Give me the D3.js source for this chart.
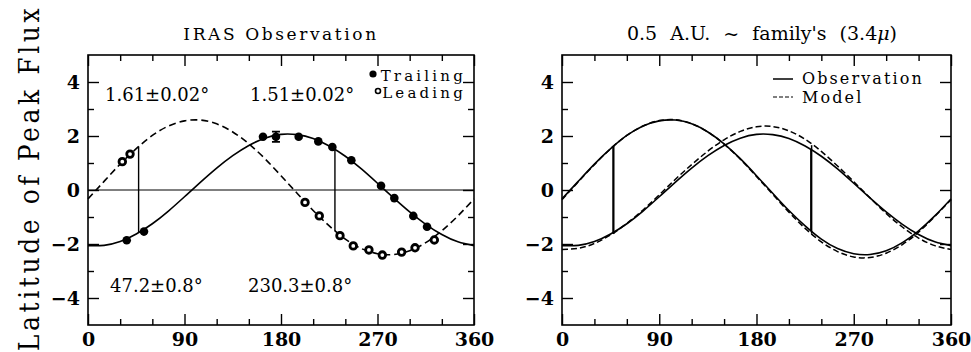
<!DOCTYPE html>
<html>
<head>
<meta charset="utf-8">
<script src="https://cdn.jsdelivr.net/npm/d3@7/dist/d3.min.js"></script>
<style>
  body { margin: 0; background: #fff; }
  .tick text { font-family: "DejaVu Serif", serif; font-weight: bold; font-size: 19px; fill: #000; }
  .tick line { stroke: #000; stroke-width: 1.4; }
</style>
</head>
<body>
<div id="chart"></div>
<script>
// longitude samples (deg) for the fitted curves
const lon = [0,15,30,45,60,75,90,105,120,135,150,165,180,195,210,225,240,255,270,285,300,315,330,345,360]
// IRAS fits
const trailingFit = [-2.06,-2.05,-1.91,-1.63,-1.25,-0.78,-0.25,0.29,0.81,1.27,1.65,1.92,2.06,2.05,1.91,1.63,1.25,0.78,0.25,-0.29,-0.81,-1.27,-1.65,-1.92,-2.06]
const leadingFit = [-0.33,0.32,0.96,1.53,2.02,2.37,2.56,2.59,2.45,2.15,1.71,1.16,0.53,-0.12,-0.76,-1.33,-1.82,-2.17,-2.36,-2.39,-2.25,-1.95,-1.51,-0.96,-0.33]
// model curves (right panel, dashed)
const modelLeading = [-0.36,0.30,0.94,1.53,2.02,2.37,2.57,2.60,2.46,2.15,1.70,1.14,0.50,-0.16,-0.82,-1.42,-1.92,-2.28,-2.48,-2.50,-2.34,-2.02,-1.56,-0.98,-0.36]
const modelTrailing = [-2.20,-2.16,-1.98,-1.66,-1.24,-0.74,-0.18,0.40,0.94,1.44,1.86,2.17,2.34,2.35,2.19,1.88,1.43,0.89,0.31,-0.29,-0.87,-1.37,-1.78,-2.06,-2.20]

// observed points
const trailingLon = [36.1,52.2,163.2,175.3,196.5,214.8,227.9,245.6,273.3,285.7,303.4,316.2]
const trailingLat = [-1.86,-1.54,1.97,1.97,1.97,1.80,1.59,1.10,0.16,-0.30,-0.96,-1.36]
const leadingLon = [32.0,39.2,202.4,215.7,235.0,247.4,262.0,274.5,292.5,305.0,323.0]
const leadingLat = [1.05,1.33,-0.46,-0.96,-1.69,-2.07,-2.22,-2.41,-2.30,-2.14,-1.85]
const errLon = [175.3]
const errLo = [1.78]
const errHi = [2.16]

// node lines
const obsNodeLon = [47.2, 230.3]
const obsNodeTop = [1.61, 1.51]
const obsNodeBottom = [-1.58, -1.52]
const modelNodeLon = [47.9, 231.0]
const modelNodeTop = [1.63, 1.66]
const modelNodeBottom = [-1.63, -1.62]

const xMajor = [0, 90, 180, 270, 360]
const xMinor = [30, 60, 120, 150, 210, 240, 300, 330]
const yMajor = [-4, -2, 0, 2, 4]
const yMinor = [-3, -1, 1, 3]

const width = 971
const height = 352
const plotTop = 55, plotBottom = 325
const serif = "'DejaVu Serif', serif"

const svg = d3.select("#chart").append("svg")
    .attr("width", width).attr("height", height)
    .attr("viewBox", [0, 0, width, height])

svg.append("rect").attr("width", width).attr("height", height).attr("fill", "#fff")

svg.append("text")
    .attr("transform", `translate(39,178) rotate(-90) scale(1,1.15)`)
    .attr("text-anchor", "middle")
    .style("font-family", serif)
    .style("font-size", "25px")
    .style("letter-spacing", "3.6px")
    .text("Latitude of Peak Flux")

const y = d3.scaleLinear().domain([-5, 5]).range([plotBottom, plotTop])
const fmt = d => d < 0 ? "\u2212" + Math.abs(d) : String(d)

function panel(x0, x1) {
    const x = d3.scaleLinear().domain([0, 360]).range([x0, x1])
    const g = svg.append("g")

    const sides = [
        [d3.axisBottom, x, `translate(0,${plotBottom})`, true, xMajor, xMinor],
        [d3.axisTop, x, `translate(0,${plotTop})`, false, xMajor, xMinor],
        [d3.axisLeft, y, `translate(${x0},0)`, true, yMajor, yMinor],
        [d3.axisRight, y, `translate(${x1},0)`, false, yMajor, yMinor]
    ]
    sides.forEach(([make, sc, tr, labels, major, minor]) => {
        g.append("g").attr("transform", tr)
            .call(make(sc).tickValues(major).tickSizeInner(-11).tickSizeOuter(0)
                .tickPadding(labels ? 8 : 0).tickFormat(labels ? fmt : ""))
            .call(s => s.select(".domain").remove())
        g.append("g").attr("transform", tr)
            .call(make(sc).tickValues(minor).tickSizeInner(-6).tickSizeOuter(0).tickFormat(""))
            .call(s => s.select(".domain").remove())
    })

    g.append("rect")
        .attr("x", x0).attr("y", plotTop)
        .attr("width", x1 - x0).attr("height", plotBottom - plotTop)
        .attr("fill", "none").attr("stroke", "#000").attr("stroke-width", 1.6)
    return { x, g }
}

function curve(g, x, ys, dash, w) {
    const line = d3.line().x((d, i) => x(lon[i])).y(d => y(d)).curve(d3.curveNatural)
    g.append("path").datum(ys)
        .attr("fill", "none").attr("stroke", "#000")
        .attr("stroke-width", w || 1.6)
        .attr("stroke-dasharray", dash || null)
        .attr("d", line)
}

function nodes(g, x, lons, tops, bots, w) {
    g.selectAll(null).data(lons).join("line")
        .attr("x1", d => x(d)).attr("x2", d => x(d))
        .attr("y1", (d, i) => y(tops[i])).attr("y2", (d, i) => y(bots[i]))
        .attr("stroke", "#000").attr("stroke-width", w)
}

// ---- left panel: IRAS observation
const L = panel(88, 474)
L.g.append("text")
    .attr("x", 281).attr("y", 40).attr("text-anchor", "middle")
    .style("font-family", serif).style("font-size", "17px").style("letter-spacing", "2.6px")
    .text("IRAS Observation")
L.g.append("line")
    .attr("x1", L.x(0)).attr("x2", L.x(360)).attr("y1", y(0)).attr("y2", y(0))
    .attr("stroke", "#000").attr("stroke-width", 1)
curve(L.g, L.x, trailingFit, null, 1.6)
curve(L.g, L.x, leadingFit, "7,4", 1.6)
nodes(L.g, L.x, obsNodeLon, obsNodeTop, obsNodeBottom, 1.4)

L.g.selectAll(null).data(errLon).join("path")
    .attr("stroke", "#000").attr("stroke-width", 1.8).attr("fill", "none")
    .attr("d", (d, i) => `M${L.x(d)},${y(errLo[i])}V${y(errHi[i])}M${L.x(d) - 4},${y(errLo[i])}h8M${L.x(d) - 4},${y(errHi[i])}h8`)

L.g.selectAll(null).data(trailingLon).join("circle")
    .attr("cx", d => L.x(d)).attr("cy", (d, i) => y(trailingLat[i]))
    .attr("r", 4.3).attr("fill", "#000")
L.g.selectAll(null).data(leadingLon).join("circle")
    .attr("cx", d => L.x(d)).attr("cy", (d, i) => y(leadingLat[i]))
    .attr("r", 3.3).attr("fill", "#fff").attr("stroke", "#000").attr("stroke-width", 2.8)

const annos = [
    ["1.61\u00b10.02\u00b0", 105, 101],
    ["1.51\u00b10.02\u00b0", 250, 101],
    ["47.2\u00b10.8\u00b0", 110, 292],
    ["230.3\u00b10.8\u00b0", 248, 292]
]
L.g.selectAll(null).data(annos).join("text")
    .attr("x", d => d[1]).attr("y", d => d[2])
    .style("font-family", serif).style("font-size", "18px")
    .text(d => d[0])

// legend
L.g.append("circle").attr("cx", 373).attr("cy", 74).attr("r", 3.6).attr("fill", "#000")
L.g.append("circle").attr("cx", 378).attr("cy", 91).attr("r", 2.5)
    .attr("fill", "#fff").attr("stroke", "#000").attr("stroke-width", 1.6)
L.g.append("text").attr("x", 466).attr("y", 80.5).attr("text-anchor", "end")
    .style("font-family", serif).style("font-size", "15px").style("letter-spacing", "3.2px").text("Trailing")
L.g.append("text").attr("x", 466).attr("y", 97.5).attr("text-anchor", "end")
    .style("font-family", serif).style("font-size", "15px").style("letter-spacing", "3.2px").text("Leading")

// ---- right panel: model comparison
const R = panel(562, 951)
const rt = R.g.append("text")
    .attr("x", 762).attr("y", 40).attr("text-anchor", "middle")
    .style("font-family", serif).style("font-size", "19px").style("word-spacing", "7px")
rt.append("tspan").text("0.5 A.U. ~ family's (3.4")
rt.append("tspan").style("font-style", "italic").text("\u03bc")
rt.append("tspan").text(")")

curve(R.g, R.x, leadingFit, null, 1.6)
curve(R.g, R.x, trailingFit, null, 1.6)
curve(R.g, R.x, modelLeading, "6,3", 1.5)
curve(R.g, R.x, modelTrailing, "6,3", 1.5)
nodes(R.g, R.x, obsNodeLon, obsNodeTop, obsNodeBottom, 1.5)
nodes(R.g, R.x, modelNodeLon, modelNodeTop, modelNodeBottom, 1.5)

R.g.append("line").attr("x1", 773).attr("x2", 793).attr("y1", 79).attr("y2", 79)
    .attr("stroke", "#000").attr("stroke-width", 1.5)
R.g.append("line").attr("x1", 773).attr("x2", 793).attr("y1", 97).attr("y2", 97)
    .attr("stroke", "#000").attr("stroke-width", 1.2).attr("stroke-dasharray", "4,2")
R.g.append("text").attr("x", 802).attr("y", 84)
    .style("font-family", serif).style("font-size", "16px").style("letter-spacing", "2.1px").text("Observation")
R.g.append("text").attr("x", 802).attr("y", 102.5)
    .style("font-family", serif).style("font-size", "16px").style("letter-spacing", "2.1px").text("Model")
</script>
</body>
</html>
